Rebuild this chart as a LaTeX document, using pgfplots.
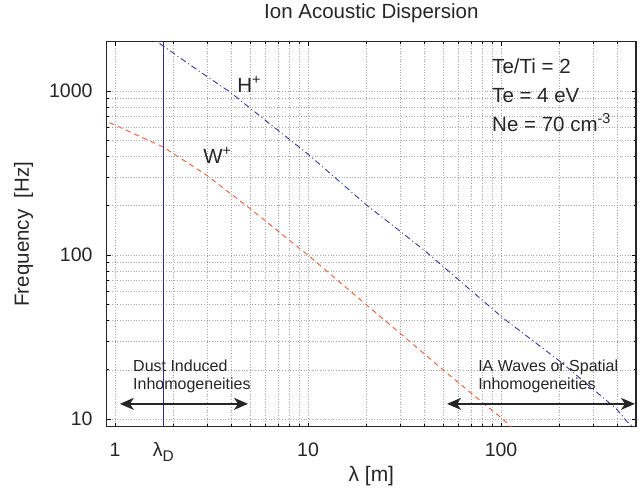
\documentclass[border=0pt]{standalone}
\usepackage{fontspec}
\setmainfont{Liberation Sans}
\usepackage{pgfplots}
\usepackage{pgfplotstable}
\pgfplotsset{compat=1.18}
\usetikzlibrary{arrows.meta}
\definecolor{hblue}{RGB}{55,55,165}
\definecolor{wred}{RGB}{240,90,50}
\definecolor{ldblue}{RGB}{45,45,145}

\pgfplotstableread{
lam f
1.5 2170
1.711 1944
2.5 1420
3.944 986
6.3 635
10.16 406
20.14 201.5
29.98 140
40.4 106
102.8 41.2
202.2 22.5
397.7 11.5
448 9.7
520 8.3
}\hdata

\pgfplotstableread{
lam f
0.85 676
0.906 654
1.78 456
2.987 306.8
5.006 192.4
10.0 100
20.14 49.6
29.98 33.4
50.2 19.95
81 12.5
100.8 10.14
120 8.4
}\wdata

\begin{document}
\begin{tikzpicture}
\begin{loglogaxis}[
  scale only axis, width=529.3pt, height=385pt,
  xmin=0.906, xmax=500, ymin=9, ymax=2000,
  xtick={1,10,100}, xticklabels={1,10,100},
  minor xtick={2,3,4,5,6,7,8,9,20,30,40,50,60,70,80,90,200,300,400},
  ytick={10,100,1000}, yticklabels={10,100,1000},
  minor ytick={20,30,40,50,60,70,80,90,200,300,400,500,600,700,800,900},
  extra x ticks={1.78},
  extra x tick labels={λ\raisebox{-0.4ex}{\fontsize{15.5}{15.5}\selectfont D}},
  extra x tick style={grid=none, major tick length=0pt},
  grid=both,
  major grid style={gray!70, line width=0.5pt, dash pattern=on 0.7pt off 2pt},
  minor grid style={gray!70, line width=0.5pt, dash pattern=on 0.7pt off 2pt},
  tick align=inside, major tick length=4pt, minor tick length=2.5pt,
  tick style={black, line width=0.7pt},
  axis line style={line width=1.3pt, black!85},
  /pgf/number format/assume math mode=true,
  ticklabel style={font=\fontsize{19.5}{19.5}\selectfont, text=black!85},
  xticklabel style={anchor=base, inner sep=0pt, yshift=-30.3pt},
  yticklabel style={anchor=east, inner sep=0pt, xshift=-14pt},
  title={Ion Acoustic Dispersion},
  title style={at={(axis description cs:0.5,1.0434)}, anchor=base, inner sep=0pt,
    font=\fontsize{20.5}{20.5}\selectfont, text=black!85},
  xlabel={λ [m]},
  xlabel style={at={(axis description cs:0.5,-0.1436)}, anchor=base, inner sep=0pt,
    font=\fontsize{21}{21}\selectfont, text=black!85},
  ylabel={Frequency\ \ [Hz]},
  ylabel style={at={(axis description cs:-0.157,0.5)}, anchor=center, inner sep=0pt,
    font=\fontsize{20.5}{20.5}\selectfont, text=black!85},
]
\addplot[ldblue, line width=0.8pt] coordinates {(1.78,9) (1.78,2000)};
\addplot[hblue, line width=0.9pt, dash pattern=on 6pt off 3pt on 1pt off 3pt] table[x=lam,y=f] {\hdata};
\addplot[wred, line width=0.9pt, dash pattern=on 5pt off 4pt] table[x=lam,y=f] {\wdata};

\draw[black!85, line width=1.6pt, {Stealth[length=14pt,width=12pt,inset=4pt]}-{Stealth[length=14pt,width=12pt,inset=4pt]}]
  (axis cs:1.06,12.4) -- (axis cs:4.89,12.4);
\draw[black!85, line width=1.6pt, {Stealth[length=14pt,width=12pt,inset=4pt]}-{Stealth[length=14pt,width=12pt,inset=4pt]}]
  (axis cs:52.5,12.4) -- (axis cs:494,12.4);

\begin{scope}[every node/.style={inner sep=0pt, anchor=base west, text=black!85}]
\node[font=\fontsize{20.5}{20.5}\selectfont] at (axis cs:89.8,1281) {Te/Ti = 2};
\node[font=\fontsize{20.5}{20.5}\selectfont] at (axis cs:89.8,853.6) {Te = 4 eV};
\node[font=\fontsize{20.5}{20.5}\selectfont] at (axis cs:89.8,568) {Ne = 70 cm\textsuperscript{-3}};
\node[font=\fontsize{20.5}{20.5}\selectfont] at (axis cs:4.29,983) {H\textsuperscript{+}};
\node[font=\fontsize{20.5}{20.5}\selectfont] at (axis cs:2.86,363) {W\textsuperscript{+}};
\node[font=\fontsize{16}{16}\selectfont] at (axis cs:1.24,19.4) {Dust Induced};
\node[font=\fontsize{16}{16}\selectfont] at (axis cs:1.24,15.08) {Inhomogeneities};
\node[font=\fontsize{16}{16}\selectfont] at (axis cs:76,19.4) {IA Waves or Spatial};
\node[font=\fontsize{16}{16}\selectfont] at (axis cs:76,15.08) {Inhomogeneities};
\end{scope}
\end{loglogaxis}
\pgfresetboundingbox
\useasboundingbox ([shift={(-106.7pt,-64.3pt)}]current axis.south west) rectangle ([shift={(7pt,41.7pt)}]current axis.north east);
\end{tikzpicture}
\end{document}
